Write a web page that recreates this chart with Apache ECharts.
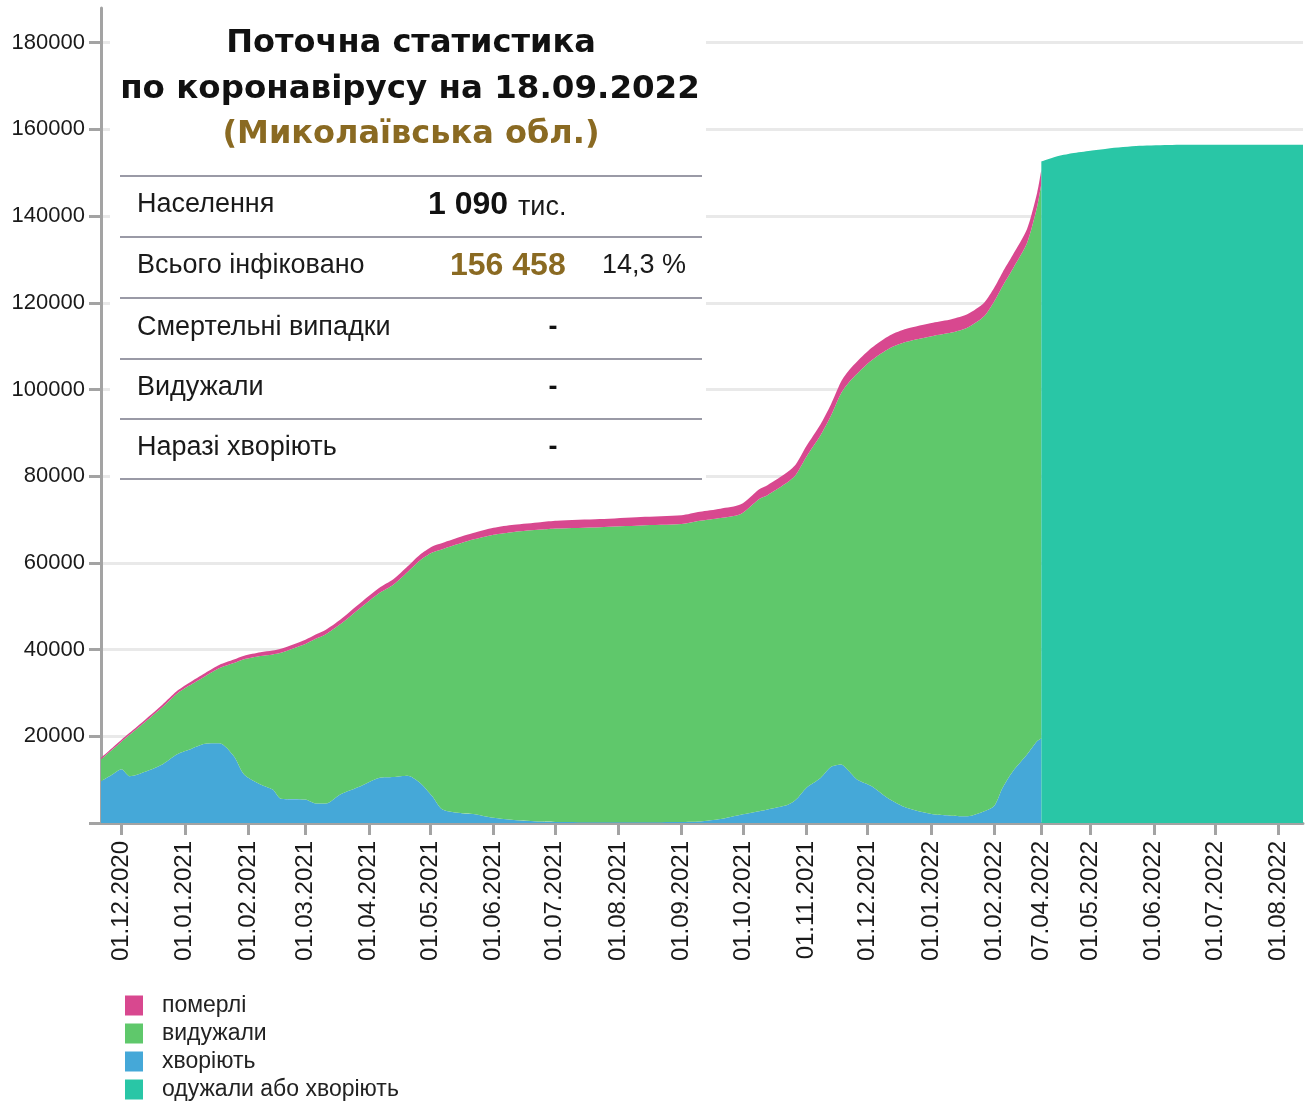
<!DOCTYPE html>
<html>
<head>
<meta charset="utf-8">
<title>Миколаївська обл.</title>
<script src="https://cdn.jsdelivr.net/npm/echarts@6/dist/echarts.min.js"></script>
<style>
  html, body { margin: 0; padding: 0; background: #fff; }
  #chart { width: 1306px; height: 1104px; }
</style>
</head>
<body>
<div id="chart"></div>
<script>
// daily figures up to the break on 24.02.2022
const dates = [
  '21.11.2020', '26.11.2020', '01.12.2020', '05.12.2020', '13.12.2020', '21.12.2020', '28.12.2020',
  '03.01.2021', '11.01.2021', '18.01.2021', '25.01.2021', '30.01.2021', '07.02.2021', '13.02.2021',
  '17.02.2021', '01.03.2021', '06.03.2021', '11.03.2021', '18.03.2021', '28.03.2021', '06.04.2021',
  '13.04.2021', '20.04.2021', '26.04.2021', '02.05.2021', '07.05.2021', '17.05.2021', '22.05.2021',
  '01.06.2021', '11.06.2021', '24.06.2021', '02.07.2021', '23.07.2021', '12.08.2021', '01.09.2021',
  '10.09.2021', '20.09.2021', '30.09.2021', '09.10.2021', '13.10.2021', '23.10.2021', '27.10.2021',
  '01.11.2021', '08.11.2021', '13.11.2021', '18.11.2021', '22.11.2021', '26.11.2021', '03.12.2021',
  '12.12.2021', '20.12.2021', '02.01.2022', '11.01.2022', '19.01.2022', '27.01.2022', '01.02.2022',
  '05.02.2022', '10.02.2022', '17.02.2022', '22.02.2022', '24.02.2022'
];
const sick = [
  9600, 11000, 12400, 10800, 11900, 13500, 15800,
  16900, 18300, 18400, 15400, 11200, 8900, 7700,
  5600, 5400, 4500, 4500, 6600, 8500, 10400,
  10600, 10900, 9300, 6200, 3100, 2200, 2100,
  1200, 700, 350, 250, 200, 200, 250,
  350, 900, 1900, 2700, 3100, 4200, 5400,
  8100, 10400, 12900, 13500, 11900, 10000, 8500,
  5400, 3500, 2000, 1700, 1550, 2700, 4000,
  8100, 11900, 15800, 18900, 19500
];
const recovered = [
  5050, 5700, 6350, 9530, 11580, 13220, 13980,
  14740, 15580, 17330, 21490, 26560, 29620, 31190,
  33670, 35900, 37980, 39050, 39220, 41170, 42620,
  44370, 47020, 51270, 56200, 60070, 62500, 63270,
  65300, 66450, 67330, 67700, 68050, 68450, 68700,
  69350, 69450, 69400, 72050, 72520, 74450, 75000,
  76350, 79050, 80980, 85600, 89850, 93700, 98220,
  104150, 107500, 110350, 111420, 112750, 114180, 116360,
  115740, 115920, 117980, 123340, 127900
];
const dead = [
  350, 400, 450, 470, 520, 580, 620,
  660, 720, 770, 810, 840, 880, 910,
  930, 1000, 1020, 1050, 1080, 1130, 1180,
  1230, 1280, 1330, 1400, 1430, 1500, 1530,
  1600, 1650, 1720, 1750, 1850, 1950, 2050,
  2100, 2150, 2200, 2250, 2280, 2350, 2400,
  2450, 2550, 2620, 2700, 2750, 2800, 2880,
  2950, 3000, 3050, 3080, 3100, 3120, 3140,
  3160, 3180, 3220, 3260, 3300
];

// after 07.04.2022 only the total is published
const laterDates = [
  '07.04.2022', '14.04.2022', '22.04.2022', '01.05.2022', '09.05.2022',
  '25.05.2022', '10.06.2022', '01.07.2022', '13.08.2022'
];
const recoveredOrSick = [
  152600, 153700, 154500, 155100, 155550,
  156200, 156420, 156450, 156458
];

const tickDates = [
  '01.12.2020', '01.01.2021', '01.02.2021', '01.03.2021', '01.04.2021', '01.05.2021',
  '01.06.2021', '01.07.2021', '01.08.2021', '01.09.2021', '01.10.2021', '01.11.2021',
  '01.12.2021', '01.01.2022', '01.02.2022', '07.04.2022', '01.05.2022', '01.06.2022',
  '01.07.2022', '01.08.2022'
];
const yLabels = [20000, 40000, 60000, 80000, 100000, 120000, 140000, 160000, 180000];
const yTicks = [0].concat(yLabels);

// the x axis counts days, with the 24.02 - 07.04.2022 pause cut out
const DAY = 86400000;
const origin = Date.UTC(2020, 11, 1);
const gapEnd = Date.UTC(2022, 3, 7);
const gapDays = 42;

function dayIndex(s) {
  const [d, m, y] = s.split('.').map(Number);
  const t = Date.UTC(y, m - 1, d);
  let n = Math.round((t - origin) / DAY);
  if (t >= gapEnd) n -= gapDays;
  return n;
}

const tickPos = tickDates.map(dayIndex);
const tickName = {};
tickDates.forEach((s, i) => { tickName[tickPos[i]] = s; });

// value first, day second: with two value axes echarts stacks the first column
const pairs = (ds, vals) => ds.map((s, i) => [vals[i], dayIndex(s)]);

const chart = echarts.init(document.getElementById('chart'));

const FONT = '"Liberation Sans", Arial, sans-serif';
const TITLE_FONT = '"DejaVu Sans", Verdana, sans-serif';
const rowLines = [176, 237, 298, 359, 419, 479];
const rows = [
  { y: 205, label: 'Населення' },
  { y: 266, label: 'Всього інфіковано' },
  { y: 328, label: 'Смертельні випадки' },
  { y: 388, label: 'Видужали' },
  { y: 448, label: 'Наразі хворіють' }
];

const table = [
  { type: 'rect', shape: { x: 110, y: 0, width: 596, height: 485 }, style: { fill: '#fff' }, z: 10 },
  { type: 'text', x: 411, y: 44, z: 11, style: { text: 'Поточна статистика', fontFamily: TITLE_FONT, fontWeight: 'bold', fontSize: 32, fill: '#111', align: 'center', verticalAlign: 'middle' } },
  { type: 'text', x: 410, y: 90, z: 11, style: { text: 'по коронавірусу на 18.09.2022', fontFamily: TITLE_FONT, fontWeight: 'bold', fontSize: 32.5, fill: '#111', align: 'center', verticalAlign: 'middle' } },
  { type: 'text', x: 411, y: 135, z: 11, style: { text: '(Миколаївська обл.)', fontFamily: TITLE_FONT, fontWeight: 'bold', fontSize: 32, fill: '#8a6a22', align: 'center', verticalAlign: 'middle' } }
];
rowLines.forEach(y => {
  table.push({ type: 'line', z: 11, shape: { x1: 120, y1: y, x2: 702, y2: y }, style: { stroke: '#9a9aa6', lineWidth: 2 } });
});
rows.forEach(r => {
  table.push({ type: 'text', x: 137, y: r.y, z: 11, style: { text: r.label, fontFamily: FONT, fontSize: 27, fill: '#1a1a1a', verticalAlign: 'middle' } });
});
table.push(
  { type: 'text', x: 428, y: 205, z: 11, style: { text: '1 090', fontFamily: FONT, fontWeight: 'bold', fontSize: 32, fill: '#111', verticalAlign: 'middle' } },
  { type: 'text', x: 518, y: 208, z: 11, style: { text: 'тис.', fontFamily: FONT, fontSize: 27, fill: '#1a1a1a', verticalAlign: 'middle' } },
  { type: 'text', x: 450, y: 266, z: 11, style: { text: '156 458', fontFamily: FONT, fontWeight: 'bold', fontSize: 32, fill: '#8a6a22', verticalAlign: 'middle' } },
  { type: 'text', x: 602, y: 266, z: 11, style: { text: '14,3 %', fontFamily: FONT, fontSize: 27, fill: '#1a1a1a', verticalAlign: 'middle' } }
);
[328, 388, 448].forEach(y => {
  table.push({ type: 'text', x: 553, y: y, z: 11, style: { text: '-', fontFamily: FONT, fontWeight: 'bold', fontSize: 27, fill: '#111', align: 'center', verticalAlign: 'middle' } });
});

const areaSeries = (name, color, data, stack) => ({
  name: name,
  type: 'line',
  stack: stack,
  data: data,
  encode: { x: 1, y: 0 },
  smooth: 0.25,
  showSymbol: false,
  lineStyle: { width: 0 },
  areaStyle: { color: color, opacity: 1 },
  itemStyle: { color: color },
  emphasis: { disabled: true }
});

const options = {
  animation: false,
  grid: { left: 101, right: 3, top: 8, bottom: 281 },
  legend: {
    data: ['померлі', 'видужали', 'хворіють', 'одужали або хворіють'],
    orient: 'vertical',
    left: 125,
    top: 994,
    height: 130,
    padding: 0,
    icon: 'rect',
    itemWidth: 18,
    itemHeight: 20,
    itemGap: 5,
    textStyle: { fontFamily: FONT, fontSize: 23, lineHeight: 20, color: '#222', padding: [0, 0, 0, 14] }
  },
  xAxis: {
    type: 'value',
    min: -10,
    max: 578,
    axisLine: { onZero: false, lineStyle: { color: '#a3a3a3', width: 3 } },
    axisTick: { customValues: tickPos, length: 12, lineStyle: { color: '#a3a3a3', width: 3 } },
    axisLabel: {
      customValues: tickPos,
      formatter: v => tickName[v] || '',
      rotate: 90,
      margin: 18,
      fontFamily: FONT,
      fontSize: 24,
      color: '#1a1a1a'
    },
    splitLine: { show: false }
  },
  yAxis: {
    type: 'value',
    min: 0,
    max: 188000,
    interval: 20000,
    axisLine: { show: true, onZero: false, lineStyle: { color: '#a3a3a3', width: 3 } },
    axisTick: { show: true, customValues: yTicks, length: 12, lineStyle: { color: '#a3a3a3', width: 3 } },
    axisLabel: { customValues: yLabels, formatter: v => String(v), margin: 16, fontFamily: FONT, fontSize: 22, color: '#1a1a1a' },
    splitLine: { lineStyle: { color: '#e9e9e9', width: 3 } }
  },
  graphic: { elements: table },
  series: [
    areaSeries('хворіють', '#45a8d8', pairs(dates, sick), 'covid'),
    areaSeries('видужали', '#5fc86b', pairs(dates, recovered), 'covid'),
    areaSeries('померлі', '#d8488f', pairs(dates, dead), 'covid'),
    areaSeries('одужали або хворіють', '#29c6a6', pairs(laterDates, recoveredOrSick))
  ]
};

chart.setOption(options);
</script>
</body>
</html>
